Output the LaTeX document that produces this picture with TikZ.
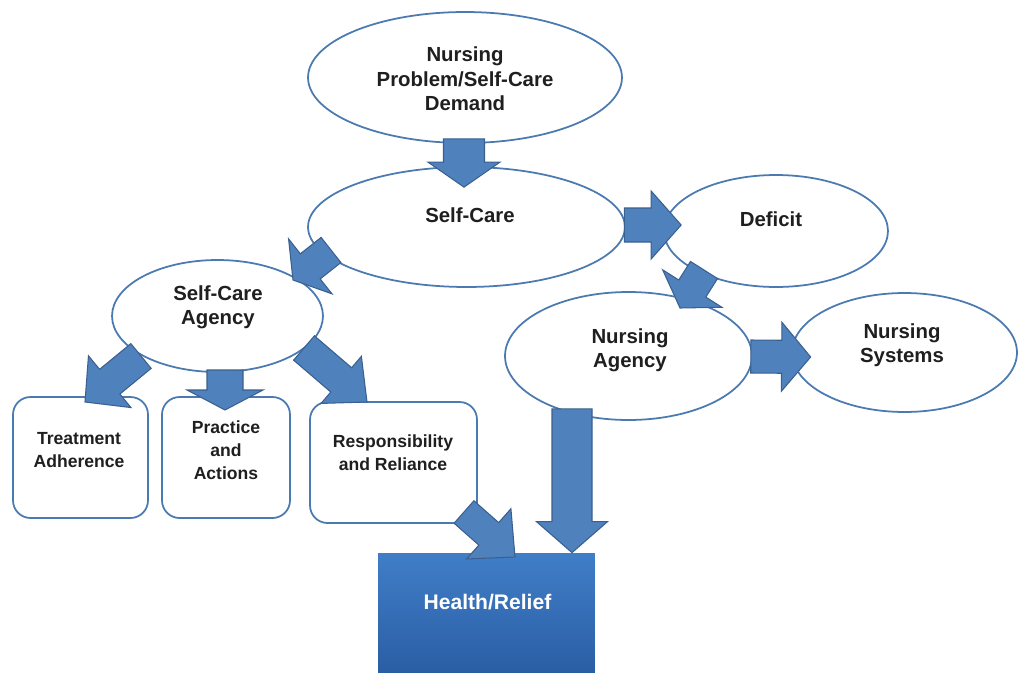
\documentclass[tikz,border=0pt]{standalone}
\usepackage{fontspec}
\setmainfont{Liberation Sans}
\usetikzlibrary{shapes.geometric,calc}

\definecolor{lineblue}{RGB}{74,122,176}
\definecolor{arrowblue}{RGB}{79,129,189}
\definecolor{arrowedge}{RGB}{58,96,142}
\definecolor{healthtop}{RGB}{64,126,200}
\definecolor{healthbot}{RGB}{42,94,164}

\tikzset{
  ell/.style={ellipse,draw=lineblue,line width=1pt,fill=white,inner sep=0pt},
  box/.style={rectangle,rounded corners=0.35cm,draw=lineblue,line width=1pt,fill=white,inner sep=0pt},
  lbl/.style={align=center,font=\bfseries\fontsize{11.6}{13.9}\selectfont,text=black!88},
  sublbl/.style={align=center,font=\bfseries\fontsize{10}{13}\selectfont,text=black!88},
  barrow/.style={fill=arrowblue,draw=arrowedge,line width=0.6pt,line join=miter}
}

% block arrow: start, tip, shaft half width, head half width, head length (in px)
\newcommand{\blockarrow}[5]{%
  \pgfmathsetlengthmacro\shw{#3*0.02cm}%
  \pgfmathsetlengthmacro\hhw{#4*0.02cm}%
  \pgfmathsetlengthmacro\hlen{#5*0.02cm}%
  \draw[barrow] let \p1=#1, \p2=#2, \n1={atan2(\y2-\y1,\x2-\x1)} in
    ($(\p1)+(\n1+90:\shw)$) -- ($(\p2)+(\n1+180:\hlen)+(\n1+90:\shw)$)
    -- ($(\p2)+(\n1+180:\hlen)+(\n1+90:\hhw)$) -- (\p2)
    -- ($(\p2)+(\n1+180:\hlen)+(\n1-90:\hhw)$)
    -- ($(\p2)+(\n1+180:\hlen)+(\n1-90:\shw)$)
    -- ($(\p1)+(\n1-90:\shw)$) -- cycle;}

\begin{document}
\begin{tikzpicture}[x=0.02cm,y=-0.02cm]
\useasboundingbox (0,0) rectangle (1018,673);

% ellipses
\node[ell,minimum width=6.28cm,minimum height=2.62cm] (demand) at (465,77.5) {};
\node[ell,minimum width=6.34cm,minimum height=2.4cm] (care) at (466.5,227) {};
\node[ell,minimum width=4.48cm,minimum height=2.24cm] (deficit) at (776,231) {};
\node[ell,minimum width=4.22cm,minimum height=2.24cm] (agency) at (217.5,316) {};
\node[ell,minimum width=4.94cm,minimum height=2.56cm] (nagency) at (628.5,356) {};
\node[ell,minimum width=4.5cm,minimum height=2.38cm] (systems) at (904.5,352.5) {};

% boxes
\node[box,minimum width=2.7cm,minimum height=2.42cm] (treat) at (80.5,457.5) {};
\node[box,minimum width=2.56cm,minimum height=2.42cm] (practice) at (226,457.5) {};
\node[box,minimum width=3.34cm,minimum height=2.42cm] (resp) at (393.5,462.5) {};
\node[minimum width=4.34cm,minimum height=2.4cm,inner sep=0pt,
  top color=healthtop,bottom color=healthbot] (health) at (486.5,613) {};

% texts
\node[lbl] (demandtxt) at (465,79) {Nursing\\Problem/Self-Care\\Demand};
\node[lbl] (caretxt) at (470,215) {Self-Care};
\node[lbl] (deficittxt) at (771,219) {Deficit};
\node[lbl] (agencytxt) at (218,307) {Self-Care\\Agency};
\node[lbl] (nagencytxt) at (630,350) {Nursing\\Agency};
\node[lbl] (systemstxt) at (902,345) {Nursing\\Systems};
\node[sublbl] (treattxt) at (79,450) {Treatment\\Adherence};
\node[sublbl] (practicetxt) at (226,450) {Practice\\and\\Actions};
\node[sublbl] (resptxt) at (393,453) {Responsibility\\and Reliance};
\node[lbl,text=white,font=\bfseries\fontsize{12}{14}\selectfont] (healthtxt) at (487.5,602) {Health/Relief};

% block arrows
\blockarrow{($(demand.south)+(-1,-5)$)}{($(care.north)+(-2.5,21)$)}{20.5}{36}{25}
\blockarrow{($(care.east)+(-1.5,-2)$)}{($(deficit.west)+(18,-6)$)}{17}{34}{30}
\blockarrow{($(care)+(-135.5,23)$)}{($(agency)+(75.5,-36)$)}{16}{35}{22}
\blockarrow{($(deficit)+(-72,39)$)}{($(nagency)+(51.5,-48)$)}{16}{35}{23}
\blockarrow{($(nagency.east)+(-2,0.5)$)}{($(systems.west)+(19.5,4.5)$)}{16.5}{34.5}{29}
\blockarrow{($(agency)+(-76.5,40)$)}{($(treat)+(4.5,-55.5)$)}{16}{33.5}{32}
\blockarrow{($(agency)+(7.5,54)$)}{($(practice)+(-1,-47.5)$)}{18}{38}{20}
\blockarrow{($(agency)+(86.5,32)$)}{($(resp)+(-26.5,-60.5)$)}{16}{31}{34}
\blockarrow{($(resp)+(70.5,49.5)$)}{($(health)+(28.5,-56)$)}{15}{33.5}{35}
\blockarrow{($(nagency.south)+(-56.5,-12)$)}{($(health.north)+(85.5,0)$)}{20}{35.5}{31}
\end{tikzpicture}
\end{document}
